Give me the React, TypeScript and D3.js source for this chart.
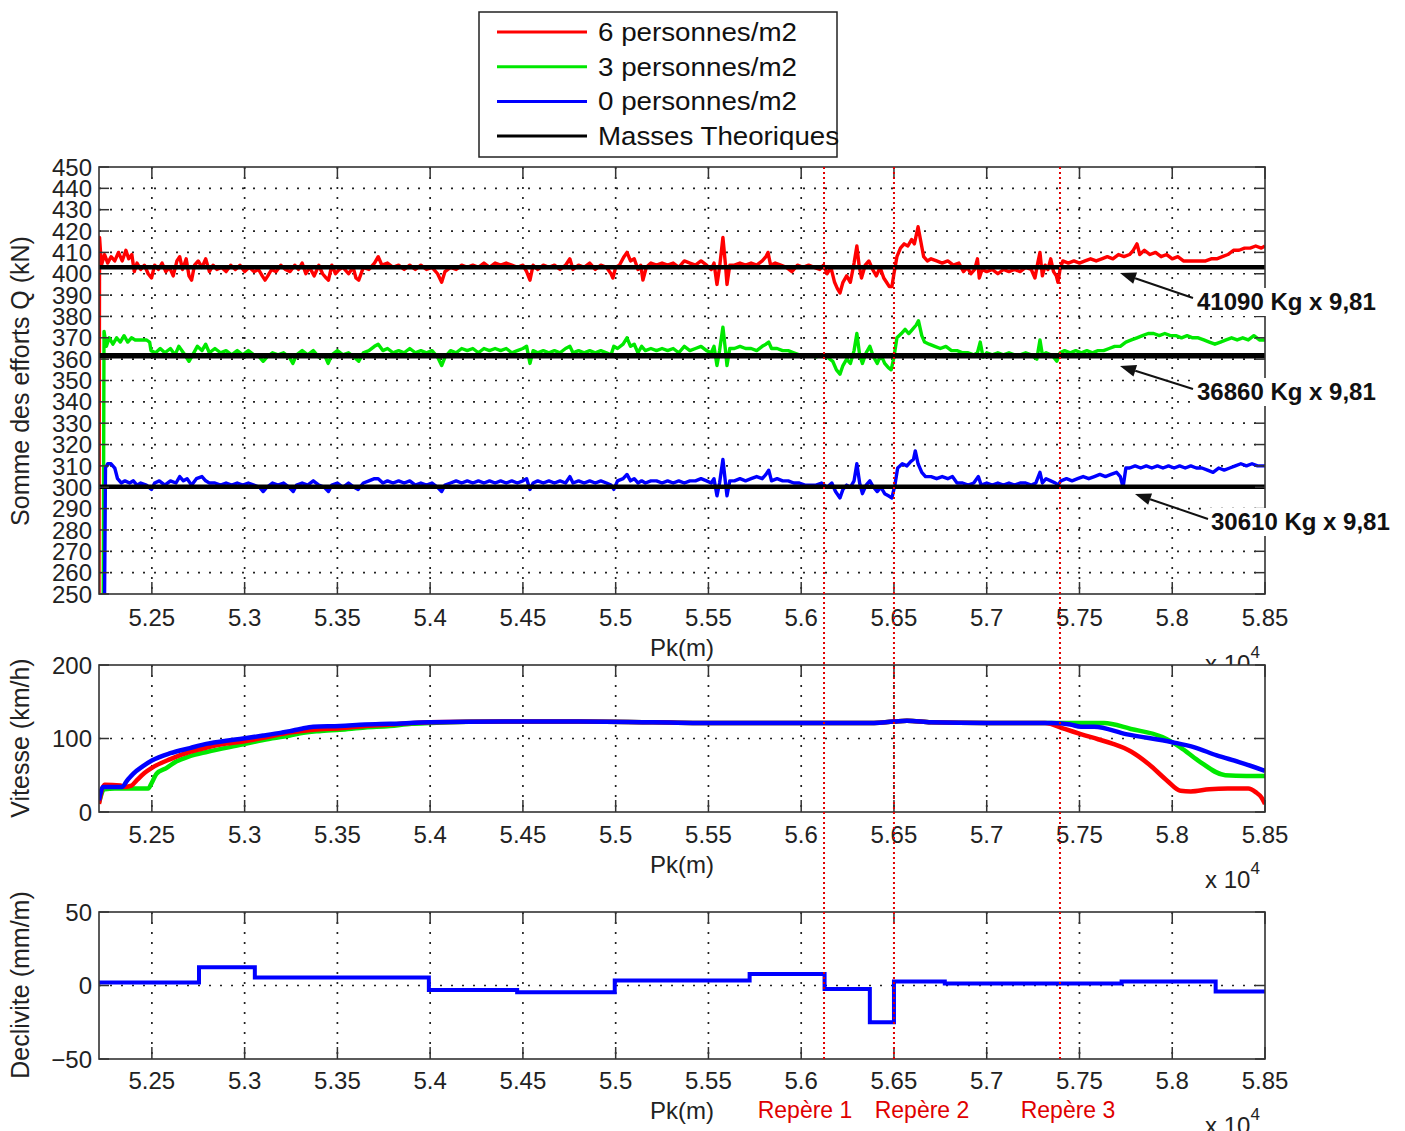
import React from 'react';
import * as d3 from 'd3';

// ---------------- DATA ----------------
const pkDomain = [52215, 58500];
const xTicks = [52500, 53000, 53500, 54000, 54500, 55000, 55500, 56000, 56500, 57000, 57500, 58000, 58500];
const xTickLabels = ['5.25', '5.3', '5.35', '5.4', '5.45', '5.5', '5.55', '5.6', '5.65', '5.7', '5.75', '5.8', '5.85'];

const effortTicks = [250, 260, 270, 280, 290, 300, 310, 320, 330, 340, 350, 360, 370, 380, 390, 400, 410, 420, 430, 440, 450];
const speedTicks = [0, 100, 200];
const slopeTicks = [-50, 0, 50];
const slopeTickLabels = ['\u221250', '0', '50'];

const legendLabels = ['6 personnes/m2', '3 personnes/m2', '0 personnes/m2', 'Masses Theoriques'];
const seriesColors = ['#ff0000', '#00e800', '#0000ff', '#000000'];
const theoreticalMassesKg = [41090, 36860, 30610];

const reperePk = [56123, 56500, 57395];
const repereLabels = ['Rep\u00e8re 1', 'Rep\u00e8re 2', 'Rep\u00e8re 3'];

// Somme des efforts Q (kN) — 6 personnes/m2
const effort6: [number, number][] = [
  [52215,250],[52218,417],[52228,404],[52245,409],[52262,405],[52280,408],[52300,406],[52320,410],[52340,406],[52360,411],[52375,407],[52392,409],[52405,401],[52420,405],[52440,402],[52460,404],[52480,400],[52498,398],[52515,404],[52535,402],[52555,405],[52575,401],[52595,403],[52615,399],[52635,406],[52650,408],[52665,402],[52685,407],[52700,399],[52714,397],[52730,404],[52750,406],[52770,403],[52790,407],[52810,401],[52830,404],[52850,402],[52875,403],[52900,401],[52925,404],[52950,402],[52975,404],[53000,401],[53025,403],[53050,401],[53075,402],[53095,399],[53110,397],[53125,399],[53145,402],[53170,401],[53195,404],[53220,402],[53245,401],[53270,404],[53290,402],[53310,405],[53330,400],[53350,403],[53375,399],[53400,404],[53420,400],[53440,398],[53452,397],[53470,404],[53490,400],[53510,402],[53530,403],[53560,400],[53585,403],[53600,398],[53615,397],[53640,403],[53670,402],[53700,405],[53720,408],[53740,404],[53770,405],[53800,403],[53830,404],[53860,402],[53890,404],[53920,402],[53950,404],[53980,402],[54010,403],[54040,400],[54062,396],[54080,401],[54110,403],[54140,402],[54170,404],[54200,403],[54230,404],[54260,403],[54290,405],[54320,403],[54350,405],[54380,404],[54410,405],[54440,404],[54470,403],[54500,404],[54520,401],[54538,397],[54555,404],[54580,402],[54610,404],[54640,403],[54670,404],[54700,402],[54730,404],[54753,407],[54770,402],[54800,404],[54830,403],[54860,405],[54890,402],[54920,404],[54950,403],[54975,400],[54985,398],[55000,403],[55020,404],[55045,408],[55061,410],[55080,406],[55100,407],[55120,402],[55135,404],[55147,397],[55165,403],[55190,405],[55220,404],[55250,405],[55280,404],[55310,405],[55340,403],[55370,406],[55400,405],[55430,404],[55460,406],[55490,404],[55515,402],[55530,405],[55546,395],[55560,403],[55578,417],[55592,404],[55600,395],[55615,404],[55640,404],[55670,405],[55700,404],[55730,405],[55760,404],[55790,406],[55810,408],[55821,410],[55835,404],[55860,405],[55890,404],[55920,403],[55950,401],[55980,404],[56010,403],[56040,404],[56070,403],[56100,402],[56120,404],[56140,400],[56160,403],[56180,396],[56195,393],[56209,391],[56225,396],[56245,399],[56265,396],[56285,405],[56300,413],[56312,404],[56325,398],[56345,404],[56365,406],[56385,402],[56405,399],[56425,403],[56445,398],[56460,396],[56475,394],[56489,394],[56500,400],[56516,408],[56535,412],[56555,414],[56575,413],[56595,416],[56610,414],[56630,422],[56645,415],[56660,408],[56680,406],[56700,407],[56730,406],[56760,405],[56790,406],[56820,404],[56850,405],[56875,401],[56895,403],[56915,400],[56935,402],[56950,407],[56960,398],[56975,402],[57000,401],[57030,402],[57060,400],[57090,402],[57120,401],[57150,402],[57180,401],[57210,403],[57240,402],[57260,398],[57275,405],[57287,410],[57300,399],[57315,404],[57330,402],[57345,407],[57360,401],[57375,399],[57384,396],[57395,402],[57410,406],[57440,405],[57470,406],[57500,405],[57530,406],[57560,407],[57590,406],[57620,407],[57650,408],[57680,407],[57710,409],[57740,408],[57770,409],[57790,411],[57810,414],[57825,409],[57850,411],[57880,409],[57910,410],[57940,408],[57970,409],[58000,407],[58030,408],[58060,406],[58090,406],[58120,406],[58150,406],[58180,406],[58210,407],[58240,407],[58270,408],[58300,409],[58330,411],[58360,411],[58390,412],[58420,412],[58450,413],[58480,412],[58500,413]
];

// 3 personnes/m2
const effort3: [number, number][] = [
  [52238,250],[52242,373],[52255,366],[52270,370],[52290,367],[52310,370],[52330,368],[52350,371],[52370,368],[52390,370],[52410,369],[52440,369],[52470,369],[52488,368],[52495,364],[52520,363],[52545,365],[52570,363],[52600,365],[52625,362],[52645,366],[52670,363],[52700,359],[52720,362],[52745,366],[52770,364],[52790,367],[52810,363],[52840,365],[52870,363],[52900,364],[52930,362],[52960,364],[52990,362],[53020,364],[53050,362],[53080,361],[53100,359],[53120,361],[53150,363],[53180,362],[53210,363],[53240,361],[53260,358],[53280,362],[53310,364],[53340,362],[53370,364],[53400,361],[53430,362],[53450,358],[53470,362],[53500,364],[53530,362],[53560,363],[53590,361],[53615,359],[53640,363],[53670,364],[53700,366],[53720,367],[53745,364],[53770,365],[53800,363],[53830,364],[53860,363],[53890,365],[53920,363],[53950,364],[53980,363],[54010,364],[54040,361],[54062,357],[54080,361],[54110,364],[54140,363],[54170,365],[54200,364],[54230,365],[54260,363],[54290,365],[54320,364],[54350,365],[54380,364],[54410,365],[54440,363],[54470,364],[54500,365],[54520,366],[54538,358],[54555,364],[54580,363],[54610,364],[54640,363],[54670,364],[54700,363],[54730,365],[54753,366],[54770,363],[54800,364],[54830,363],[54860,364],[54890,363],[54920,364],[54950,363],[54975,362],[54990,366],[55010,365],[55040,367],[55061,370],[55080,366],[55100,367],[55120,363],[55140,366],[55160,364],[55190,365],[55220,364],[55250,365],[55280,364],[55310,365],[55340,363],[55370,366],[55400,364],[55430,365],[55460,366],[55490,364],[55515,363],[55530,366],[55546,357],[55560,364],[55578,375],[55592,364],[55600,357],[55615,365],[55640,365],[55670,366],[55700,365],[55730,365],[55760,364],[55790,366],[55810,367],[55825,368],[55840,365],[55870,365],[55900,364],[55930,364],[55960,363],[55990,362],[56020,362],[56050,362],[56080,361],[56110,362],[56140,361],[56170,359],[56190,355],[56209,353],[56225,357],[56245,360],[56265,358],[56285,364],[56300,372],[56315,362],[56330,358],[56350,363],[56370,366],[56390,361],[56410,358],[56430,362],[56450,358],[56470,356],[56485,355],[56500,361],[56516,370],[56540,372],[56560,374],[56580,372],[56600,374],[56620,376],[56632,378],[56650,371],[56665,368],[56690,367],[56720,366],[56750,365],[56780,366],[56810,364],[56840,364],[56870,363],[56900,363],[56930,362],[56950,363],[56965,368],[56980,361],[57000,363],[57030,362],[57060,363],[57090,362],[57120,363],[57150,362],[57180,362],[57210,363],[57240,362],[57270,360],[57287,369],[57300,362],[57320,363],[57345,362],[57360,361],[57378,359],[57395,363],[57420,364],[57450,363],[57480,364],[57510,363],[57540,364],[57570,363],[57600,364],[57630,364],[57660,365],[57690,366],[57720,366],[57750,368],[57780,369],[57810,370],[57840,371],[57870,372],[57900,372],[57930,371],[57960,372],[57990,371],[58020,371],[58050,370],[58080,371],[58110,370],[58140,370],[58170,369],[58200,368],[58230,367],[58260,368],[58290,369],[58320,370],[58350,369],[58380,370],[58410,369],[58440,371],[58470,369],[58500,369]
];

// 0 personnes/m2
const effort0: [number, number][] = [
  [52245,250],[52250,309],[52262,311],[52280,311],[52300,309],[52315,304],[52335,302],[52355,303],[52380,302],[52400,303],[52420,301],[52440,302],[52470,301],[52498,299],[52515,302],[52540,303],[52570,301],[52600,303],[52630,302],[52650,305],[52670,303],[52690,304],[52714,301],[52740,304],[52770,305],[52790,303],[52810,302],[52840,302],[52870,301],[52900,302],[52930,301],[52960,302],[52990,301],[53020,302],[53050,301],[53080,300],[53100,298],[53120,300],[53150,302],[53180,301],[53210,302],[53240,300],[53262,298],[53280,301],[53310,302],[53340,301],[53370,303],[53400,301],[53430,300],[53452,298],[53470,301],[53500,302],[53530,300],[53560,302],[53590,300],[53612,299],[53640,302],[53670,303],[53700,304],[53720,304],[53745,302],[53770,303],[53800,302],[53830,303],[53860,302],[53890,303],[53920,301],[53950,302],[53980,301],[54010,302],[54040,300],[54062,298],[54080,301],[54110,302],[54140,303],[54170,302],[54200,303],[54230,302],[54260,303],[54290,302],[54320,303],[54350,302],[54380,303],[54410,302],[54440,303],[54470,302],[54500,303],[54520,304],[54538,299],[54555,302],[54580,303],[54610,302],[54640,303],[54670,302],[54700,303],[54730,302],[54753,305],[54770,302],[54800,303],[54830,302],[54860,303],[54890,302],[54920,303],[54950,302],[54975,301],[54990,299],[55010,303],[55040,304],[55061,306],[55080,303],[55100,304],[55120,302],[55140,303],[55160,302],[55190,303],[55220,303],[55250,302],[55280,303],[55310,302],[55340,303],[55370,302],[55400,303],[55430,303],[55460,304],[55490,303],[55515,302],[55530,304],[55546,296],[55560,302],[55578,313],[55592,302],[55600,296],[55615,303],[55640,303],[55670,304],[55700,303],[55730,304],[55760,305],[55790,304],[55810,306],[55825,308],[55840,303],[55870,304],[55900,303],[55930,303],[55960,302],[55990,302],[56020,301],[56050,301],[56080,301],[56110,302],[56140,300],[56165,302],[56185,298],[56209,295],[56225,299],[56245,301],[56265,300],[56285,303],[56300,311],[56315,302],[56330,297],[56350,301],[56370,303],[56390,300],[56410,298],[56430,300],[56450,297],[56470,296],[56489,295],[56505,301],[56520,309],[56545,311],[56570,310],[56590,312],[56605,313],[56615,317],[56630,311],[56650,307],[56670,305],[56700,305],[56730,304],[56760,305],[56790,304],[56815,305],[56840,302],[56870,302],[56900,301],[56930,302],[56955,305],[56970,301],[57000,302],[57030,301],[57060,302],[57090,301],[57120,302],[57150,301],[57180,302],[57210,302],[57240,301],[57265,302],[57287,307],[57300,302],[57320,304],[57345,303],[57370,302],[57384,301],[57400,303],[57430,304],[57460,303],[57490,304],[57520,305],[57550,304],[57580,305],[57610,306],[57640,305],[57670,306],[57700,307],[57720,305],[57735,300],[57750,309],[57770,309],[57800,310],[57830,309],[57860,310],[57890,309],[57920,310],[57950,309],[57980,310],[58010,309],[58040,310],[58070,309],[58100,310],[58130,309],[58160,309],[58190,308],[58220,307],[58250,309],[58280,308],[58310,309],[58340,310],[58370,311],[58400,310],[58430,311],[58460,310],[58500,310]
];

// Vitesse (km/h)
const speed6: [number, number][] = [
  [52215,11],[52245,37],[52330,36],[52344,34],[52390,36],[52418,43],[52460,53],[52500,60],[52600,72],[52705,82],[52800,88],[52900,93],[52992,96],[53100,101],[53244,108],[53370,112],[53513,114],[53650,117],[53783,119],[54000,122],[54400,123],[54800,123],[55200,122],[55600,121],[56000,121],[56350,121],[56500,123],[56570,124],[56700,122],[57000,121],[57200,121],[57314,121],[57420,113],[57507,106],[57600,99],[57677,93],[57780,82],[57874,65],[57971,43],[58044,29],[58100,28],[58200,31],[58300,32],[58410,32],[58450,27],[58480,20],[58500,11]
];
const speed3: [number, number][] = [
  [52215,13],[52245,31],[52300,32],[52400,32],[52480,32],[52500,40],[52525,52],[52580,60],[52620,67],[52705,76],[52800,82],[52992,92],[53100,98],[53244,104],[53300,107],[53400,110],[53513,112],[53650,115],[53783,117],[53900,120],[54000,121],[54400,123],[54800,123],[55200,122],[55600,121],[56000,121],[56350,121],[56500,123],[56570,124],[56700,122],[57000,121],[57200,121],[57500,121],[57632,121],[57777,113],[57947,102],[58044,88],[58140,70],[58286,50],[58400,49],[58500,49]
];
const speed0: [number, number][] = [
  [52215,16],[52237,34],[52300,34],[52337,34],[52370,44],[52399,52],[52450,62],[52500,70],[52600,80],[52705,87],[52800,93],[52900,97],[52992,100],[53100,104],[53200,108],[53244,110],[53300,113],[53370,116],[53513,117],[53650,119],[53783,120],[54000,122],[54400,123],[54800,123],[55200,122],[55600,121],[56000,121],[56350,121],[56500,123],[56570,124],[56700,122],[57000,121],[57350,121],[57450,119],[57508,116],[57580,116],[57750,106],[58000,95],[58120,88],[58240,77],[58360,68],[58500,56]
];

// Declivite (mm/m): step start positions and values
const slopeStartPk = [52215, 52754, 53055, 53993, 54469, 54995, 55722, 56126, 56370, 56500, 56774, 57727, 58234];
const slopeValues = [2, 12.5, 5.5, -3, -4.6, 3.4, 7.8, -2.3, -25, 2.8, 1.4, 2.8, -4.1];

// ---------------- LAYOUT ----------------
const FONT = "'Liberation Sans', Arial, Helvetica, sans-serif";
const X0 = 99, X1 = 1265;
const x = d3.scaleLinear().domain(pkDomain).range([X0, X1]);

const panels = {
  top: { y0: 167, y1: 594 },
  mid: { y0: 665, y1: 812 },
  bot: { y0: 912, y1: 1059 },
};
const yTop = d3.scaleLinear().domain([250, 450]).range([panels.top.y1, panels.top.y0]);
const yMid = d3.scaleLinear().domain([0, 200]).range([panels.mid.y1, panels.mid.y0]);
const yBot = d3.scaleLinear().domain([-50, 50]).range([panels.bot.y1, panels.bot.y0]);

type Pt = [number, number];

function Panel(props: {
  id: string; y0: number; y1: number; yScale: d3.ScaleLinear<number, number>;
  yTicks: number[]; yLabels: string[]; gridY: number[]; children?: React.ReactNode;
  labelY: number; pkY: number;
}) {
  const { id, y0, y1, yScale, yTicks, yLabels, gridY, children } = props;
  return (
    <g>
      <rect x={X0} y={y0} width={X1 - X0} height={y1 - y0} fill="#fff" />
      {xTicks.filter(t => t < pkDomain[1]).map(t => (
        <line key={'gx' + t} x1={x(t)} x2={x(t)} y1={y0} y2={y1} stroke="#222" strokeWidth={1.7} strokeDasharray="2,8" />
      ))}
      {gridY.map(v => (
        <line key={'gy' + v} x1={X0} x2={X1} y1={yScale(v)} y2={yScale(v)} stroke="#222" strokeWidth={1.7} strokeDasharray="2,9" />
      ))}
      <clipPath id={'clip-' + id}>
        <rect x={X0} y={y0} width={X1 - X0} height={y1 - y0} />
      </clipPath>
      <g clipPath={`url(#clip-${id})`}>{children}</g>
      {xTicks.map(t => (
        <g key={'tx' + t}>
          <line x1={x(t)} x2={x(t)} y1={y1} y2={y1 - 12} stroke="#333" strokeWidth={1.5} />
          <line x1={x(t)} x2={x(t)} y1={y0} y2={y0 + 12} stroke="#333" strokeWidth={1.5} />
        </g>
      ))}
      {yTicks.map(v => (
        <g key={'ty' + v}>
          <line x1={X0} x2={X0 + 10} y1={yScale(v)} y2={yScale(v)} stroke="#333" strokeWidth={1.5} />
          <line x1={X1} x2={X1 - 10} y1={yScale(v)} y2={yScale(v)} stroke="#333" strokeWidth={1.5} />
        </g>
      ))}
      <rect x={X0} y={y0} width={X1 - X0} height={y1 - y0} fill="none" stroke="#333" strokeWidth={1.6} />
      {xTicks.map((t, i) => (
        <text key={'lx' + t} x={x(t)} y={props.labelY} textAnchor="middle" fontSize={24} fill="#222" fontFamily={FONT}>{xTickLabels[i]}</text>
      ))}
      {yTicks.map((v, i) => (
        <text key={'ly' + v} x={92} y={yScale(v)} dy="0.36em" textAnchor="end" fontSize={24} fill="#222" fontFamily={FONT}>{yLabels[i]}</text>
      ))}
      <text x={682} y={props.pkY} textAnchor="middle" fontSize={24} fill="#222" fontFamily={FONT}>Pk(m)</text>
    </g>
  );
}

function ExpLabel({ yb }: { yb: number }) {
  return (
    <text x={1205} y={yb} fontSize={24} fill="#222" fontFamily={FONT}>
      x 10<tspan fontSize={17} dy={-14}>4</tspan>
    </text>
  );
}

function Arrow({ x1, y1, x2, y2 }: { x1: number; y1: number; x2: number; y2: number }) {
  const ang = Math.atan2(y2 - y1, x2 - x1);
  const L = 16, Wd = 6;
  const bx = x2 - L * Math.cos(ang), by = y2 - L * Math.sin(ang);
  const px = -Math.sin(ang) * Wd, py = Math.cos(ang) * Wd;
  return (
    <g>
      <line x1={x1} y1={y1} x2={bx} y2={by} stroke="#111" strokeWidth={2} />
      <polygon points={`${x2},${y2} ${bx + px},${by + py} ${bx - px},${by - py}`} fill="#111" />
    </g>
  );
}

export default function App() {
  const lineTop = d3.line<Pt>().x(d => x(d[0])).y(d => yTop(d[1]));
  const lineMid = d3.line<Pt>().x(d => x(d[0])).y(d => yMid(d[1])).curve(d3.curveMonotoneX);
  const slopePts: Pt[] = slopeStartPk.map((p, i) => [p, slopeValues[i]] as Pt);
  slopePts.push([pkDomain[1], slopeValues[slopeValues.length - 1]]);
  const lineBot = d3.line<Pt>().x(d => x(d[0])).y(d => yBot(d[1])).curve(d3.curveStepAfter);

  const levels = theoreticalMassesKg.map(m => (m * 9.81) / 1000);
  const annot = [
    { tx: 1197, ty: 310, ax: 1193, ay: 298, bx: 1120, by: 273 },
    { tx: 1197, ty: 400, ax: 1193, ay: 389, bx: 1120, by: 366 },
    { tx: 1211, ty: 530, ax: 1208, ay: 519, bx: 1135, by: 494 },
  ];
  const legendW = [199, 199, 199, 241];

  return (
    <svg width={1405} height={1131} style={{ position: 'absolute', left: 0, top: 0, background: '#fff' }} fontFamily={FONT}>
      <rect width={1405} height={1131} fill="#fff" />

      <Panel id="top" {...panels.top} yScale={yTop} yTicks={effortTicks} yLabels={effortTicks.map(String)}
        gridY={effortTicks.filter(v => v > 250 && v < 450)} labelY={626} pkY={656}>
        <path d={lineTop(effort6) || ''} fill="none" stroke={seriesColors[0]} strokeWidth={3.4} strokeLinejoin="round" />
        <path d={lineTop(effort3) || ''} fill="none" stroke={seriesColors[1]} strokeWidth={3.4} strokeLinejoin="round" />
        <path d={lineTop(effort0) || ''} fill="none" stroke={seriesColors[2]} strokeWidth={3.4} strokeLinejoin="round" />
        {levels.map((lv, i) => (
          <line key={'lv' + i} x1={X0} x2={X1} y1={yTop(lv)} y2={yTop(lv)} stroke="#000" strokeWidth={i === 1 ? 5.5 : 4.5} />
        ))}
      </Panel>
      <text transform="translate(29,381) rotate(-90)" textAnchor="middle" fontSize={25} fill="#222" fontFamily={FONT}>Somme des efforts Q (kN)</text>
      <ExpLabel yb={672} />

      <Panel id="mid" {...panels.mid} yScale={yMid} yTicks={speedTicks} yLabels={speedTicks.map(String)}
        gridY={[100]} labelY={843} pkY={873}>
        <path d={lineMid(speed3) || ''} fill="none" stroke={seriesColors[1]} strokeWidth={4.5} strokeLinejoin="round" />
        <path d={lineMid(speed6) || ''} fill="none" stroke={seriesColors[0]} strokeWidth={4.5} strokeLinejoin="round" />
        <path d={lineMid(speed0) || ''} fill="none" stroke={seriesColors[2]} strokeWidth={4.5} strokeLinejoin="round" />
      </Panel>
      <text transform="translate(29,738) rotate(-90)" textAnchor="middle" fontSize={25} fill="#222" fontFamily={FONT}>Vitesse (km/h)</text>
      <ExpLabel yb={888} />

      <Panel id="bot" {...panels.bot} yScale={yBot} yTicks={slopeTicks} yLabels={slopeTickLabels}
        gridY={[0]} labelY={1089} pkY={1119}>
        <path d={lineBot(slopePts) || ''} fill="none" stroke={seriesColors[2]} strokeWidth={4} />
      </Panel>
      <text transform="translate(29,985) rotate(-90)" textAnchor="middle" fontSize={25} fill="#222" fontFamily={FONT}>Declivite (mm/m)</text>
      <ExpLabel yb={1134} />

      {reperePk.map(p => (
        <line key={'rp' + p} x1={x(p)} x2={x(p)} y1={167} y2={1062} stroke="#e00000" strokeWidth={2} strokeDasharray="2,3" />
      ))}
      {repereLabels.map((l, i) => (
        <text key={l} x={[805, 922, 1068][i]} y={1118} textAnchor="middle" fontSize={23} fill="#e00000" fontFamily={FONT}>{l}</text>
      ))}

      {annot.map((a, i) => (
        <g key={'an' + i}>
          <rect x={a.tx - 4} y={a.ty - 22} width={186} height={28} fill="#fff" />
          <Arrow x1={a.ax} y1={a.ay} x2={a.bx} y2={a.by} />
          <text x={a.tx} y={a.ty} fontSize={24} fontWeight="bold" fill="#111" fontFamily={FONT}>{`${theoreticalMassesKg[i]} Kg x 9,81`}</text>
        </g>
      ))}

      <rect x={479} y={12} width={358} height={145} fill="#fff" stroke="#222" strokeWidth={1.5} />
      {legendLabels.map((l, i) => {
        const cy = 32 + i * 34.7;
        return (
          <g key={l}>
            <line x1={497} x2={587} y1={cy} y2={cy} stroke={seriesColors[i]} strokeWidth={3} />
            <text x={598} y={cy + 9} fontSize={25} fill="#111" fontFamily={FONT} textLength={legendW[i]} lengthAdjust="spacingAndGlyphs">{l}</text>
          </g>
        );
      })}
    </svg>
  );
}
